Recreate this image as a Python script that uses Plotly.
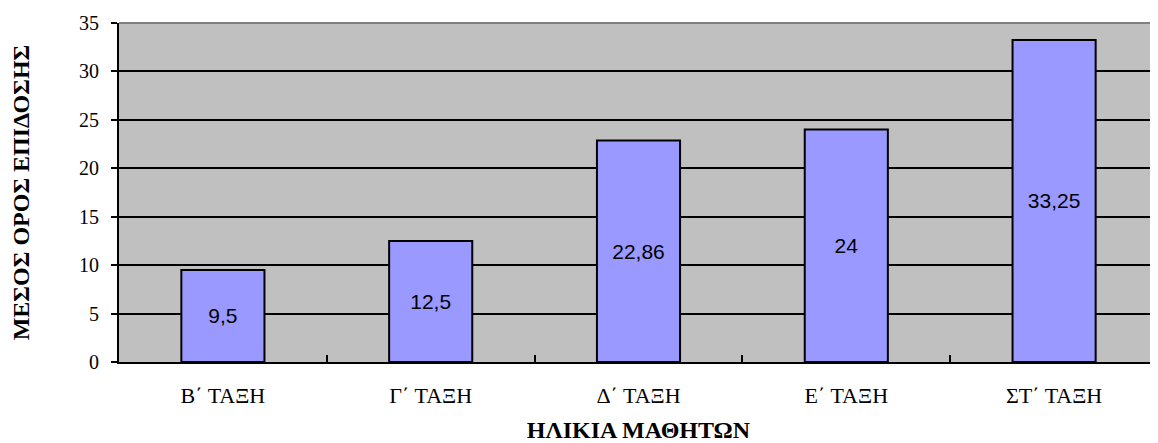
import plotly.graph_objects as go

categories = ["Β΄ ΤΑΞΗ", "Γ΄ ΤΑΞΗ", "Δ΄ ΤΑΞΗ", "Ε΄ ΤΑΞΗ", "ΣΤ΄ ΤΑΞΗ"]
values = [9.5, 12.5, 22.86, 24, 33.25]
value_labels = ["9,5", "12,5", "22,86", "24", "33,25"]
y_ticks = [0, 5, 10, 15, 20, 25, 30, 35]

fig = go.Figure()
fig.add_trace(go.Bar(
    x=categories, y=values, text=value_labels,
    textposition="inside", insidetextanchor="middle",
    textfont=dict(family="Liberation Sans", size=21, color="black"),
    marker=dict(color="#9999FF", line=dict(color="black", width=2)),
    hoverinfo="skip",
))

# page body has an 8px margin, so the figure is sized/offset to compensate
fig.update_layout(
    width=1150, height=435,
    margin=dict(l=111, r=0, t=15, b=81, autoexpand=False),
    paper_bgcolor="white", plot_bgcolor="#C0C0C0",
    bargap=0.6, showlegend=False,
    font=dict(family="Liberation Serif", color="black"),
)
fig.update_yaxes(
    range=[0, 35], tickvals=y_ticks, ticks="outside", ticklen=6, tickwidth=2,
    tickcolor="black", showline=True, linecolor="black", linewidth=2,
    showgrid=True, gridcolor="black", gridwidth=2, zeroline=False,
    automargin=False, ticklabelstandoff=8,
    tickfont=dict(size=20, family="Liberation Serif"),
    title=dict(text="<b>ΜΕΣΟΣ ΟΡΟΣ ΕΠΙΔΟΣΗΣ</b>", font=dict(size=24, family="Liberation Serif"), standoff=45),
)
fig.update_xaxes(
    tickson="boundaries", ticks="inside", ticklen=7, tickwidth=2, tickcolor="black",
    showline=True, linecolor="black", linewidth=2, showgrid=False,
    automargin=False,
    tickfont=dict(size=22, family="Liberation Serif"), ticklabelstandoff=13,
    title=dict(text="<b>ΗΛΙΚΙΑ ΜΑΘΗΤΩΝ</b>", font=dict(size=24, family="Liberation Serif"), standoff=21),
)
fig.add_shape(type="line", xref="paper", yref="paper", x0=0, x1=1, y0=1, y1=1,
              line=dict(color="#808080", width=2))

fig.write_html("out.html")
